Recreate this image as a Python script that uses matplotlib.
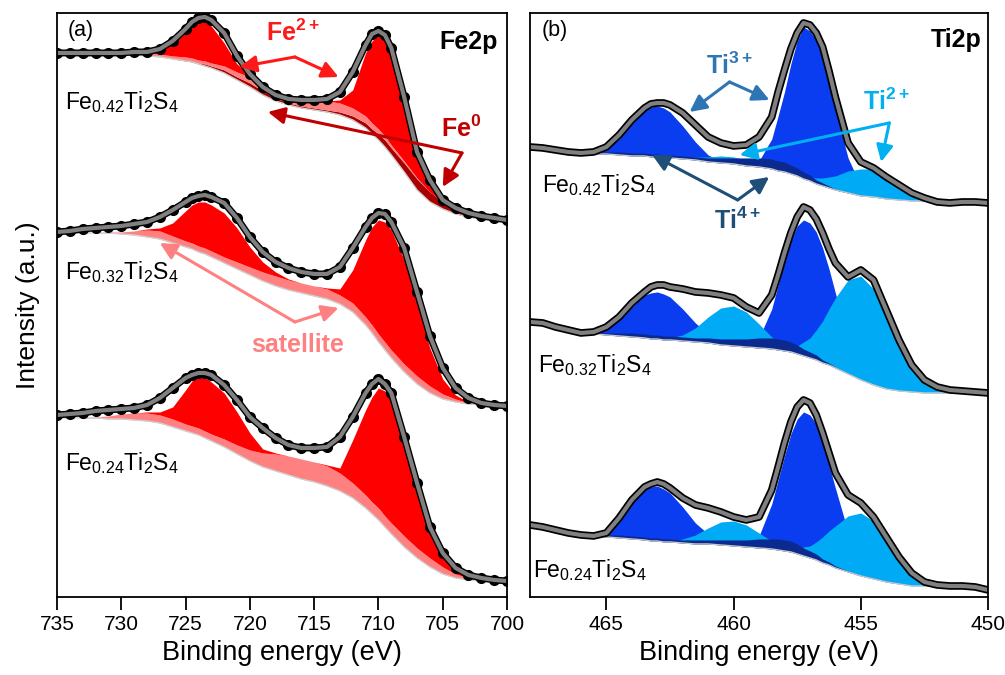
import numpy as np
import matplotlib
matplotlib.use("Agg")
import matplotlib.pyplot as plt

plt.rcParams['font.family'] = ['Liberation Sans', 'DejaVu Sans']
plt.rcParams['mathtext.fontset'] = 'custom'
plt.rcParams['mathtext.rm'] = 'Liberation Sans'
plt.rcParams['mathtext.it'] = 'Liberation Sans:italic'
plt.rcParams['mathtext.bf'] = 'Liberation Sans:bold'

# ---- Fe 2p: binding energies (eV), finer around the two peaks ----
fe_be = [735, 734, 733, 732, 731, 730, 729, 728, 727, 726, 725, 724.5, 724, 723.5, 723,
         722, 721, 720, 719, 718, 717, 716, 715, 714, 713, 712, 711, 710.5, 710, 709.5,
         709, 708, 707, 706, 705, 704, 703, 702, 701, 700]

# Fe0.42Ti2S4 (top): envelope, Shirley background, stacked component heights
fe42_env = [544, 544, 544, 544, 544, 544, 545, 545, 548, 556, 568, 575, 579, 580, 577,
            564, 541, 523, 510, 502, 498, 497, 497, 498, 505, 525, 552, 563, 566, 562,
            549, 500, 445, 417, 397, 389, 384, 381, 379, 377]
fe42_bg = [542, 542, 542, 542, 542, 542, 542, 541, 540, 538, 536, 535, 533, 531, 529,
           524, 517, 510, 502, 496, 492, 489, 487, 485, 482, 477, 469, 463, 457, 450,
           442, 425, 407, 395, 388, 383, 380, 378, 377, 377]
fe42_fe0 = [0, 0, 0, 0, 0, 0, 0, 0, 0, 0, 1, 1, 1, 2, 2,
            3, 3, 4, 4, 3, 2, 2, 2, 2, 3, 4, 5, 5, 6, 7,
            7, 9, 11, 10, 7, 4, 2, 1, 0, 0]
fe42_sat = [0, 0, 0, 0, 0, 1, 2, 3, 3, 3, 3, 3, 3, 3, 3,
            4, 5, 6, 6, 6, 6, 7, 8, 9, 9, 8, 7, 6, 5, 4,
            3, 2, 1, 0, 0, 0, 0, 0, 0, 0]
fe42_fe2 = [0, 0, 0, 0, 0, 0, 0, 1, 3, 13, 28, 35, 40, 40, 37,
            23, 8, 2, 1, 0, 0, 0, 0, 0, 3, 18, 63, 82, 94, 96,
            90, 49, 20, 8, 2, 0, 0, 0, 0, 0]

# Fe0.32Ti2S4 (middle)
fe32_env = [365, 366, 368, 369, 370, 371, 373, 375, 380, 387, 395, 399, 401, 402, 400,
            394, 379, 360, 345, 335, 329, 325, 323, 323, 330, 349, 370, 379, 384, 383,
            375, 349, 305, 261, 229, 209, 199, 194, 192, 191]
fe32_bg = [364, 364, 364, 364, 364, 363, 362, 360, 358, 354, 350, 348, 345, 343, 340,
           334, 328, 322, 316, 311, 307, 304, 301, 298, 293, 285, 272, 264, 255, 247,
           239, 225, 213, 204, 198, 195, 193, 192, 191, 191]
fe32_sat = [0, 0, 0, 0, 1, 2, 4, 7, 8, 7, 6, 6, 6, 6, 6,
            6, 7, 8, 9, 10, 10, 10, 10, 10, 9, 9, 8, 8, 8, 8,
            8, 8, 8, 7, 5, 3, 1, 0, 0, 0]
fe32_fe2 = [0, 0, 0, 0, 0, 0, 0, 1, 3, 13, 30, 38, 44, 46, 46,
            44, 34, 20, 10, 4, 1, 0, 0, 1, 6, 33, 77, 98, 114, 120,
            120, 104, 72, 38, 15, 4, 1, 0, 0, 0]

# Fe0.24Ti2S4 (bottom)
fe24_env = [182, 183, 184, 186, 187, 188, 189, 192, 199, 209, 219, 222, 224, 224, 222,
            212, 197, 180, 169, 159, 152, 149, 149, 150, 160, 180, 204, 213, 218, 213,
            204, 160, 114, 70, 44, 29, 22, 19, 17, 16]
fe24_bg = [179, 179, 179, 179, 178, 178, 177, 176, 174, 170, 166, 164, 162, 159, 156,
           150, 143, 136, 130, 126, 122, 118, 115, 111, 106, 99, 89, 83, 77, 70,
           63, 50, 39, 30, 23, 19, 17, 16, 16, 16]
fe24_sat = [0, 0, 0, 1, 3, 5, 7, 8, 8, 8, 7, 7, 7, 7, 7,
            8, 9, 11, 14, 17, 19, 20, 20, 20, 18, 15, 13, 12, 12, 11,
            11, 11, 10, 9, 7, 4, 2, 1, 0, 0]
fe24_fe2 = [0, 0, 0, 0, 0, 0, 0, 1, 3, 12, 34, 45, 52, 54, 52,
            46, 33, 17, 4, 1, 0, 0, 0, 1, 5, 43, 85, 105, 120, 125,
            125, 96, 61, 30, 12, 4, 1, 0, 0, 0]

# ---- Ti 2p: binding energies (eV), finer around the peaks ----
ti_be = [468, 467.5, 467, 466.5, 466, 465.5, 465, 464.5, 464, 463.5, 463.25, 463, 462.75, 462.5,
         462, 461.5, 461, 460.5, 460, 459.5, 459, 458.5, 458.25, 458, 457.75, 457.5, 457.25, 457,
         456.75, 456.5, 456.25, 456, 455.5, 455, 454.5, 454, 453.5, 453, 452.5, 452, 451.5, 451,
         450.5, 450]

ti42_env = [450, 449, 447, 445, 444, 445, 450, 462, 477, 489, 493, 494, 494, 492,
            484, 472, 460, 454, 451, 452, 460, 480, 505, 527, 548, 564, 574, 572,
            564, 550, 526, 500, 454, 435, 429, 420, 412, 404, 399, 395, 394, 395, 395, 394]
ti42_bg = [450, 449, 447, 445, 444, 443, 443, 442, 441, 441, 440, 440, 439, 439,
           438, 437, 435, 434, 433, 431, 430, 428, 426, 425, 423, 421, 418, 416,
           413, 411, 409, 407, 404, 401, 400, 398, 397, 396, 396, 395, 395, 395, 395, 394]
ti42_t3 = [0, 0, 0, 0, 0, 1, 5, 16, 32, 46, 50, 51, 50, 46,
           33, 18, 7, 2, 0, 1, 6, 30, 55, 80, 110, 135, 152, 150,
           144, 128, 105, 80, 35, 10, 2, 0, 0, 0, 0, 0, 0, 0, 0, 0]
ti42_t2 = [0, 0, 0, 0, 0, 0, 0, 0, 0, 0, 0, 0, 0, 0,
           1, 3, 5, 7, 7, 6, 4, 2, 1, 1, 1, 2, 3, 4,
           6, 8, 11, 14, 22, 27, 28, 21, 14, 7, 3, 0, 0, 0, 0, 0]
ti42_t4 = [0, 0, 0, 0, 0, 1, 2, 3, 3, 3, 3, 3, 3, 3,
           3, 3, 4, 5, 6, 8, 9, 10, 10, 10, 9, 8, 7, 6,
           4, 3, 2, 1, 0, 0, 0, 0, 0, 0, 0, 0, 0, 0, 0, 0]

ti32_env = [275, 274, 270, 267, 264, 265, 270, 280, 294, 305, 310, 312, 312, 310,
            308, 305, 304, 302, 299, 290, 284, 302, 322, 344, 364, 380, 390, 387,
            378, 364, 348, 334, 320, 327, 317, 287, 257, 232, 217, 210, 207, 206, 205, 204]
ti32_bg = [275, 274, 270, 267, 264, 263, 262, 261, 260, 259, 258, 258, 257, 257,
           256, 255, 254, 252, 251, 250, 249, 248, 247, 246, 245, 243, 241, 239,
           237, 234, 232, 229, 223, 217, 212, 208, 206, 205, 204, 204, 204, 204, 204, 204]
ti32_t3 = [0, 0, 0, 0, 0, 1, 6, 16, 30, 43, 46, 47, 46, 43,
           32, 19, 9, 3, 1, 2, 10, 40, 65, 90, 112, 128, 136, 135,
           128, 115, 96, 75, 35, 12, 3, 0, 0, 0, 0, 0, 0, 0, 0, 0]
ti32_t2 = [0, 0, 0, 0, 0, 0, 0, 0, 0, 0, 0, 0, 1, 2,
           6, 14, 26, 37, 40, 35, 24, 12, 8, 5, 6, 8, 14, 20,
           30, 42, 56, 70, 94, 104, 96, 72, 45, 24, 10, 3, 1, 0, 0, 0]
ti32_t4 = [0, 0, 0, 0, 0, 1, 2, 3, 4, 4, 4, 4, 4, 4,
           4, 4, 5, 6, 7, 8, 10, 11, 11, 11, 10, 9, 7, 6,
           5, 3, 2, 1, 0, 0, 0, 0, 0, 0, 0, 0, 0, 0, 0, 0]

ti24_env = [72, 70, 67, 64, 62, 61, 64, 79, 97, 110, 113, 115, 113, 109,
            99, 92, 89, 85, 80, 77, 80, 107, 130, 154, 175, 190, 197, 194,
            182, 164, 144, 124, 102, 94, 80, 60, 40, 24, 15, 12, 11, 11, 10, 7]
ti24_bg = [72, 70, 67, 64, 62, 61, 60, 59, 58, 57, 56, 56, 55, 55,
           54, 53, 53, 52, 51, 50, 49, 48, 47, 46, 45, 43, 41, 39,
           37, 34, 32, 29, 25, 21, 18, 15, 13, 11, 11, 10, 10, 10, 9, 7]
ti24_t3 = [0, 0, 0, 0, 0, 1, 4, 18, 36, 50, 54, 55, 53, 49,
           36, 21, 10, 4, 1, 2, 12, 45, 70, 95, 118, 135, 144, 143,
           136, 120, 100, 80, 40, 14, 4, 1, 0, 0, 0, 0, 0, 0, 0, 0]
ti24_t2 = [0, 0, 0, 0, 0, 0, 0, 0, 0, 0, 0, 0, 0, 1,
           4, 9, 16, 23, 25, 22, 15, 8, 5, 3, 4, 5, 9, 12,
           18, 26, 34, 42, 56, 63, 58, 43, 26, 12, 4, 1, 0, 0, 0, 0]
ti24_t4 = [0, 0, 0, 0, 0, 1, 2, 3, 3, 3, 3, 3, 3, 3,
           3, 4, 4, 5, 6, 7, 9, 10, 11, 11, 11, 10, 8, 7,
           6, 4, 3, 2, 1, 0, 0, 0, 0, 0, 0, 0, 0, 0, 0, 0]

samples = [r'Fe$_{0.42}$Ti$_2$S$_4$', r'Fe$_{0.32}$Ti$_2$S$_4$', r'Fe$_{0.24}$Ti$_2$S$_4$']

RED, PINK, DARKRED = '#ff0000', '#ff8080', '#a80000'
BLUE, CYAN, NAVY = '#0a3cf0', '#00aaf5', '#0a2a90'


def draw_fe(ax, env, bg, comps):
    # Fe fit components are stacked on the background
    base = np.array(bg, dtype=float)
    for h, c in comps:
        top = base + np.array(h)
        ax.fill_between(fe_be, base, top, color=c, lw=0)
        base = top
    ax.plot(fe_be, bg, color='#d0d0d0', lw=1)
    ax.plot(fe_be, env, color='black', lw=5, marker='o', ms=7, solid_joinstyle='round')
    ax.plot(fe_be, env, color='#808080', lw=3, solid_joinstyle='round')


def draw_ti(ax, env, bg, comps):
    # Ti fit components overlap, each from the background
    bg = np.array(bg, dtype=float)
    for h, c in comps:
        ax.fill_between(ti_be, bg, bg + np.array(h), color=c, lw=0)
    ax.plot(ti_be, bg, color='#c8c8c8', lw=1)
    ax.plot(ti_be, env, color='black', lw=5.5, solid_joinstyle='round')
    ax.plot(ti_be, env, color='#808080', lw=3, solid_joinstyle='round')


def pointer(ax, label, txt_xy, vertex, tips, color, weight='normal'):
    ax.text(*txt_xy, label, color=color, fontsize=18, ha='center', va='center', fontweight=weight)
    for t in tips:
        ax.annotate('', xy=t, xytext=vertex,
                    arrowprops=dict(arrowstyle='-|>', color=color, lw=2.2,
                                    mutation_scale=25, shrinkA=0, shrinkB=0))


fig = plt.figure(figsize=(10.05, 6.75), dpi=100)
ax1 = fig.add_axes([0.0567, 0.1156, 0.4478, 0.8652])
ax2 = fig.add_axes([0.5274, 0.1156, 0.4557, 0.8652])

# Fe 2p panel
draw_fe(ax1, fe42_env, fe42_bg, [(fe42_fe0, DARKRED), (fe42_sat, PINK), (fe42_fe2, RED)])
draw_fe(ax1, fe32_env, fe32_bg, [(fe32_sat, PINK), (fe32_fe2, RED)])
draw_fe(ax1, fe24_env, fe24_bg, [(fe24_sat, PINK), (fe24_fe2, RED)])

for s, y in zip(samples, [495, 325, 134]):
    ax1.text(734.4, y, s, fontsize=16.5, ha='left', va='center')
ax1.text(734.2, 566, '(a)', fontsize=15.5, ha='left', va='center')
ax1.text(700.7, 548, 'Fe2p', fontsize=18, fontweight='bold', ha='right', va='baseline')

pointer(ax1, r'$\mathbf{Fe^{2+}}$', (716.7, 564), (716.5, 540), [(720.8, 530), (713.1, 520)], '#ff1a1a')
pointer(ax1, r'$\mathbf{Fe^{0}}$', (703.6, 468), (703.5, 444), [(705.0, 410), (718.6, 485)], '#c00000')
pointer(ax1, 'satellite', (716.3, 252), (716.5, 275), [(727.0, 354), (713.1, 289)], PINK, 'bold')

ax1.set_xlim(735, 700)
ax1.set_xticks([735, 730, 725, 720, 715, 710, 705, 700])

# Ti 2p panel
draw_ti(ax2, ti42_env, ti42_bg, [(ti42_t3, BLUE), (ti42_t2, CYAN), (ti42_t4, NAVY)])
draw_ti(ax2, ti32_env, ti32_bg, [(ti32_t3, BLUE), (ti32_t2, CYAN), (ti32_t4, NAVY)])
draw_ti(ax2, ti24_env, ti24_bg, [(ti24_t3, BLUE), (ti24_t2, CYAN), (ti24_t4, NAVY)])

for s, x, y in zip(samples, [467.53, 467.69, 467.88], [412, 232, 27]):
    ax2.text(x, y, s, fontsize=16.5, ha='left', va='center')
ax2.text(467.55, 566, '(b)', fontsize=15.5, ha='left', va='center')
ax2.text(450.27, 550, 'Ti2p', fontsize=18, fontweight='bold', ha='right', va='baseline')

pointer(ax2, r'$\mathbf{Ti^{3+}}$', (460.16, 531), (460.16, 515), [(461.73, 485), (458.59, 497)], '#2e75b6')
pointer(ax2, r'$\mathbf{Ti^{2+}}$', (454.0, 495), (453.88, 474), [(459.76, 442), (454.2, 435)], '#00b0f0')
pointer(ax2, r'$\mathbf{Ti^{4+}}$', (459.84, 376), (459.84, 397), [(463.2, 442), (458.6, 420)], '#1f4e79')

ax2.set_xlim(468, 450)
ax2.set_xticks([465, 460, 455, 450])

for ax in (ax1, ax2):
    ax.set_ylim(0, 584)
    ax.set_yticks([])
    for sp in ax.spines.values():
        sp.set_linewidth(1.3)
    ax.tick_params(axis='x', direction='out', length=9, width=1.3, labelsize=15, pad=4)
    ax.set_xlabel('Binding energy (eV)', fontsize=19.5, labelpad=4)

ax1.set_ylabel('Intensity (a.u.)', fontsize=19, labelpad=12)

fig.savefig('out.png', dpi=100)
